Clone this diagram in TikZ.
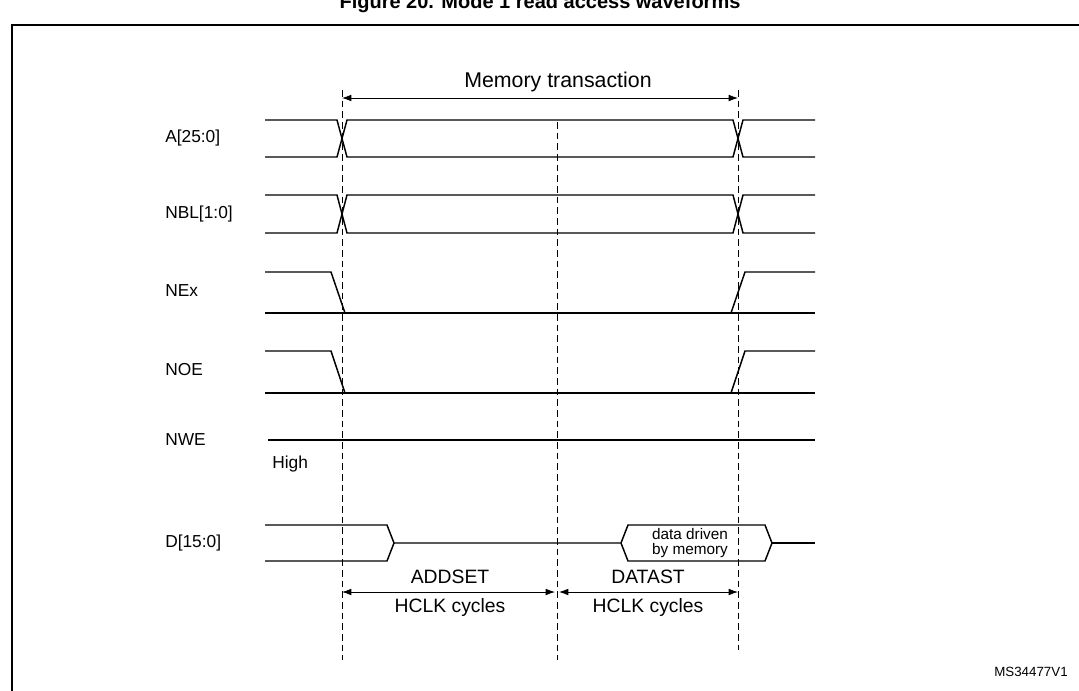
\documentclass[tikz,border=0pt]{standalone}
\usepackage{fontspec}
\setmainfont{Liberation Sans}
\usetikzlibrary{arrows.meta}
\begin{document}
\begin{tikzpicture}[x=0.75pt,y=-0.75pt,
  sig/.style={line width=1.1pt},
  vdash/.style={line width=0.5pt,dash pattern=on 5pt off 3pt},
  dim/.style={line width=0.6pt,{Latex[length=7pt,width=5pt]}-{Latex[length=7pt,width=5pt]}},
  lab/.style={anchor=west,font=\fontsize{13}{15}\selectfont,inner sep=0pt},
  txt/.style={font=\fontsize{14.5}{16}\selectfont,inner sep=0pt}]
\useasboundingbox (0,0) rectangle (1079,690);
\begin{scope}
\clip (0,0) rectangle (1079,690);
\node[font=\bfseries\fontsize{15}{17}\selectfont] (title) at (540,3) {Figure 20. Mode 1 read access waveforms};
\draw[line width=1pt] (12,700) -- (12,25) -- (1090,25);
\end{scope}
% dashed
\draw[vdash] (342,90) -- (342,660);
\draw[vdash] (557,122) -- (557,660);
\draw[vdash] (738,90) -- (738,650);
% memory transaction
\coordinate (m1) at (342,98); \coordinate (m2) at (738,98);
\draw[dim] (m1) -- (m2);
\node[txt,font=\fontsize{16}{18}\selectfont] (mt) at (558,82) {Memory transaction};
% A and NBL
\foreach \n/\h/\l in {{A[25:0]}/120/157,{NBL[1:0]}/195/233}{
  \node[lab] at (165,{(\h+\l)/2}) {\n};
  \draw[sig] (265,\h) -- (337,\h) -- (347,\l) -- (733,\l) -- (743,\h) -- (815,\h);
  \draw[sig] (265,\l) -- (337,\l) -- (347,\h) -- (733,\h) -- (743,\l) -- (815,\l);
}
% NEx, NOE
\foreach \n/\h/\l in {NEx/272/313,NOE/351/393}{
  \node[lab] at (165,{(\h+\l)/2-2}) {\n};
  \draw[sig] (265,\h) -- (331,\h) -- (345,\l) -- (731,\l) -- (745,\h) -- (815,\h);
  \draw[sig] (265,\l) -- (815,\l);
}
% NWE
\node[lab] (nwe) at (165,440) {NWE};
\draw[sig] (268,440) -- (815,440);
\node[lab] (high) at (272,464) {High};
% D
\node[lab] (d) at (165,543) {D[15:0]};
\draw[sig] (265,525) -- (387,525) -- (394,543) -- (387,561) -- (265,561);
\draw[sig] (394,543) -- (621,543) -- (628,525) -- (765,525) -- (772,543) -- (765,561) -- (628,561) -- (621,543);
\draw[sig] (772,543) -- (815,543);
\node[font=\fontsize{11.5}{11}\selectfont,align=center,inner sep=0pt] (dd) at (690,543) {data driven\\by memory};
% bottom dims
\draw[dim] (342,592) -- (555,592);
\draw[dim] (559,592) -- (738,592);
\node[txt] (a1) at (450,577) {ADDSET};
\node[txt] (a2) at (450,607) {HCLK cycles};
\node[txt] (b1) at (648,577) {DATAST};
\node[txt] (b2) at (648,607) {HCLK cycles};
\node[font=\fontsize{10}{12}\selectfont,inner sep=0pt] (ms) at (1031,672) {MS34477V1};
\end{tikzpicture}
\end{document}
